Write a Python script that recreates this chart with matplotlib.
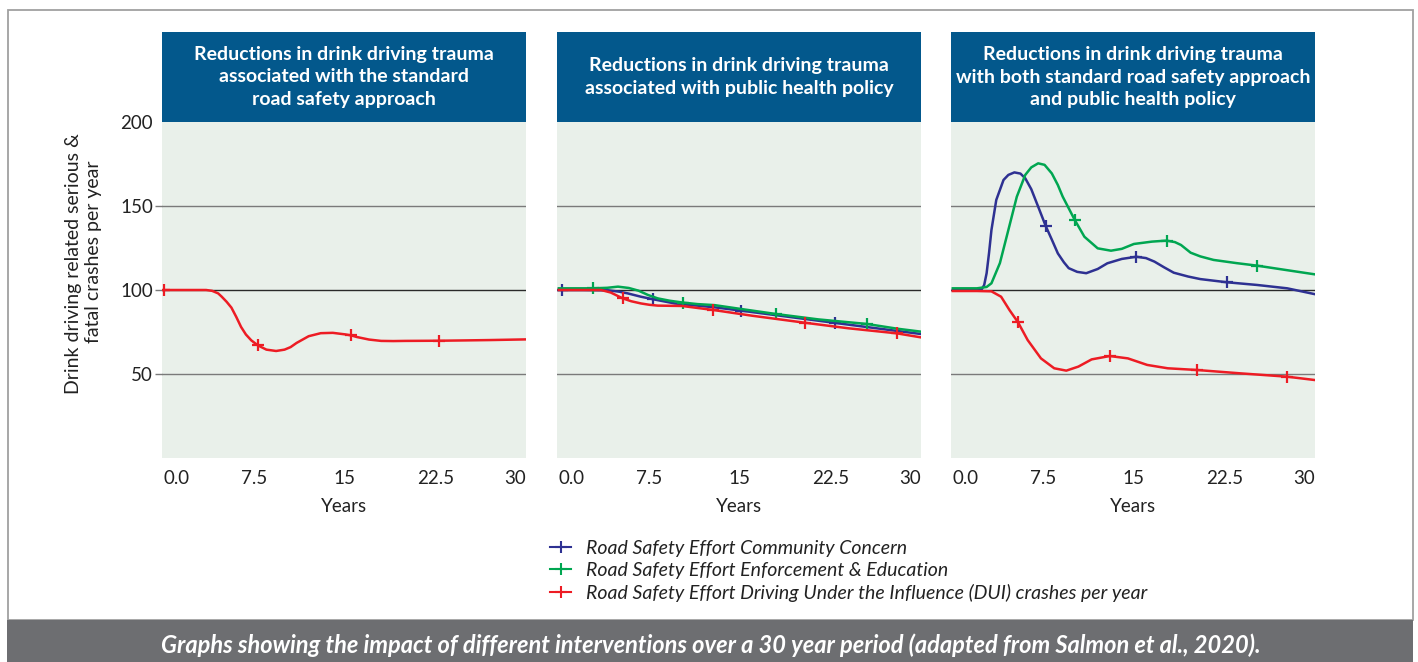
import numpy as np
import matplotlib
matplotlib.use("Agg")
import matplotlib.pyplot as plt
from matplotlib.patches import Rectangle
from matplotlib.lines import Line2D

plt.rcParams['font.family'] = ['Lato', 'DejaVu Sans']

W, H = 1418, 662
BLUE = '#2e3192'
GREEN = '#00a651'
RED = '#ed1c24'
BG = '#e9f0ea'
HEAD = '#03588c'
TXT = '#222222'

titles = [
    "Reductions in drink driving trauma\nassociated with the standard\nroad safety approach",
    "Reductions in drink driving trauma\nassociated with public health policy",
    "Reductions in drink driving trauma\nwith both standard road safety approach\nand public health policy",
]
x_ticks = [0, 7.5, 15, 22.5, 30]
x_tick_labels = ['0.0', '7.5', '15', '22.5', '30']
y_ticks = [50, 100, 150, 200]
y_tick_labels = ['50', '100', '150', '200']
legend_labels = [
    "Road Safety Effort Community Concern",
    "Road Safety Effort Enforcement & Education",
    "Road Safety Effort Driving Under the Influence (DUI) crashes per year",
]

# Panel 1: standard road safety approach
p1_red_t = [0, 1, 2, 3, 3.5, 4, 4.5, 4.8, 5.2, 5.6, 6, 6.4, 6.8, 7.25, 7.8, 8.5, 9.3, 10, 10.5, 11, 12, 13, 14, 15, 15.5, 16, 17, 18, 19, 20, 22.8, 25, 27, 30]
p1_red_v = [100, 100, 100, 100, 100, 99.5, 98, 96, 93, 89.5, 84, 78, 73.5, 70, 67, 64.5, 63.7, 64.5, 66, 68.5, 72.5, 74.3, 74.5, 73.6, 73, 72, 70.5, 69.7, 69.6, 69.7, 69.8, 70, 70.2, 70.6]
p1_red_marks = [0, 7.8, 15.5, 22.8]

# Panel 2: public health policy
p2_blue_t = [0, 0.3, 2, 4.1, 5, 5.7, 6.8, 7.8, 9.6, 12.9, 15.1, 18, 22.9, 26, 30]
p2_blue_v = [100, 100, 100, 99.8, 99, 98, 96, 94.5, 92, 89.7, 87.7, 85, 80.4, 77.5, 73.8]
p2_blue_marks = [0.3, 7.8, 15.1, 22.9]
p2_green_t = [0, 2.8, 4, 4.9, 5.8, 6.6, 7.4, 8.2, 9.2, 10.3, 11.5, 12.9, 15, 18, 21.5, 25.5, 28, 30]
p2_green_v = [101, 101, 101.3, 102, 101.2, 99.6, 97, 95, 93.6, 92.5, 91.6, 91, 88.8, 85.7, 82.5, 79.8, 77, 75.2]
p2_green_marks = [2.8, 10.3, 18, 25.5]
p2_red_t = [0, 2, 3.5, 4.3, 5.3, 6.0, 6.8, 7.5, 8.2, 10.2, 12.8, 16, 20.4, 24, 28, 30]
p2_red_v = [100, 100, 100, 98.5, 95, 93.3, 92, 91.2, 90.7, 90.5, 88.1, 84.7, 80.5, 77.2, 74.2, 71.8]
p2_red_marks = [5.3, 12.8, 20.4, 28]

# Panel 3: both approaches
p3_blue_t = [0, 1, 2, 2.4, 2.6, 2.8, 3.0, 3.2, 3.6, 4.2, 4.6, 5.1, 5.6, 6.0, 6.5, 7.07, 7.7, 8.2, 8.7, 9.2, 9.6, 10.3, 11.05, 12, 12.8, 14, 15.2, 16, 16.7, 17.5, 18.3, 19.5, 20.5, 22.7, 25.2, 27.7, 30]
p3_blue_v = [100, 100, 100, 100.5, 103, 110, 122, 135.7, 153.6, 165.5, 168.5, 170, 169.3, 166.5, 160, 149.6, 138, 130, 121.8, 116.5, 113, 110.8, 110, 112.5, 115.9, 118.5, 119.8, 119, 116.9, 113.5, 110.3, 108, 106.5, 104.6, 103, 101, 97.5]
p3_blue_marks = [7.7, 15.2, 22.7]
p3_green_t = [0, 1, 2, 2.8, 3.2, 3.9, 4.6, 5.3, 6.0, 6.5, 7.07, 7.6, 8.2, 8.7, 9.1, 10.1, 10.9, 12.0, 13.1, 14, 15.0, 16.5, 17.7, 18.4, 18.9, 19.7, 20.5, 21.6, 23.5, 25.2, 27.5, 30]
p3_green_v = [101, 101, 101, 101.8, 104, 116, 135.7, 155.5, 168.5, 173, 175.4, 174.5, 169.4, 162.5, 155.6, 141.7, 131.7, 124.8, 123.4, 124.5, 127.4, 128.8, 129.4, 128.5, 126.8, 122.2, 120, 117.9, 116, 114.5, 112, 109.3]
p3_green_marks = [10.1, 17.7, 25.2]
p3_red_t = [0, 1, 2, 3.2, 4.0, 4.7, 5.4, 6.2, 7.3, 8.4, 9.4, 10.4, 11.5, 13.0, 14.5, 16.1, 17.8, 20.2, 23.8, 27.7, 30]
p3_red_v = [99.4, 99.4, 99.4, 99.2, 96, 88, 80.8, 70.2, 59.3, 53.4, 52, 54.4, 58.7, 60.7, 59.3, 55.4, 53.4, 52.4, 50.4, 48.4, 46.4]
p3_red_marks = [5.4, 13.0, 20.2, 27.7]

panels = [
    [(p1_red_t, p1_red_v, p1_red_marks, RED)],
    [(p2_blue_t, p2_blue_v, p2_blue_marks, BLUE),
     (p2_green_t, p2_green_v, p2_green_marks, GREEN),
     (p2_red_t, p2_red_v, p2_red_marks, RED)],
    [(p3_blue_t, p3_blue_v, p3_blue_marks, BLUE),
     (p3_green_t, p3_green_v, p3_green_marks, GREEN),
     (p3_red_t, p3_red_v, p3_red_marks, RED)],
]


def px_rect(x0, y0, x1, y1):
    return [x0 / W, 1 - y1 / H, (x1 - x0) / W, (y1 - y0) / H]


fig = plt.figure(figsize=(W / 100, H / 100), dpi=100)

# outer border
fig.add_artist(Rectangle((8 / W, 1 - 620 / H), (1413 - 8) / W, (620 - 10) / H,
                         transform=fig.transFigure, fill=False,
                         edgecolor='#a0a0a0', lw=1.3))
# caption bar
fig.add_artist(Rectangle((7 / W, 0), (1413 - 7) / W, (662 - 620) / H,
                         transform=fig.transFigure, facecolor='#6d6e71',
                         edgecolor='none'))
fig.text(711 / W, 1 - 645 / H,
         "Graphs showing the impact of different interventions over a 30 year period (adapted from Salmon et al., 2020).",
         ha='center', va='center', color='white', fontsize=17,
         fontweight='bold', fontstyle='italic')

lefts = [162, 557, 951]
for i, left in enumerate(lefts):
    ax = fig.add_axes(px_rect(left, 122, left + 364, 458))
    ax.set_facecolor(BG)
    ax.set_xlim(-0.15, 30)
    ax.set_ylim(0, 200)
    for s in ax.spines.values():
        s.set_visible(False)
    for g in (50, 150):
        ax.axhline(g, color='#7a7a7a', lw=1.0, zorder=1)
    ax.axhline(100, color='#2a2a2a', lw=1.0, zorder=1)
    for t, v, marks, c in panels[i]:
        t = np.asarray(t)
        idx = [int(np.argmin(np.abs(t - m))) for m in marks]
        ax.plot(t, v, color=c, lw=1.8, marker='+', markersize=8.5,
                markeredgewidth=1.6, markevery=idx, zorder=3)
    ax.set_xticks(x_ticks)
    ax.set_xticklabels(x_tick_labels, fontsize=13.5, color=TXT)
    tl = ax.get_xticklabels()
    tl[0].set_ha('left')
    tl[-1].set_ha('right')
    ax.tick_params(axis='x', length=0, pad=9)
    if i == 0:
        ax.set_yticks(y_ticks)
        ax.set_yticklabels(y_tick_labels, fontsize=13.5, color=TXT)
        ax.tick_params(axis='y', length=5, width=1.0, color='#7a7a7a', pad=1.5)
        ax.yaxis.get_major_ticks()[-1].tick1line.set_visible(False)
    else:
        ax.set_yticks([])
    fig.text((left + 182) / W, 1 - 507 / H, "Years", ha='center', va='center',
             fontsize=13.5, color=TXT)

    hax = fig.add_axes(px_rect(left, 32, left + 364, 122))
    hax.set_facecolor(HEAD)
    hax.set_xticks([])
    hax.set_yticks([])
    for s in hax.spines.values():
        s.set_visible(False)
    hax.text(0.5, 0.5, titles[i], ha='center', va='center', color='white',
             fontsize=14, fontweight='bold', linespacing=1.4,
             transform=hax.transAxes)

fig.text(73 / W, 1 - 264 / H, "Drink driving related serious &",
         rotation=90, ha='center', va='center', fontsize=14, color=TXT)
fig.text(93 / W, 1 - 252 / H, "fatal crashes per year",
         rotation=90, ha='center', va='center', fontsize=14, color=TXT)

handles = [Line2D([], [], color=c, lw=1.5, marker='+', markersize=9,
                  markeredgewidth=1.5) for c in (BLUE, GREEN, RED)]
fig.legend(handles, legend_labels, loc='upper left',
           bbox_to_anchor=(550 / W, 1 - 540 / H), frameon=False,
           prop={'style': 'italic', 'size': 14}, handlelength=1.1,
           handletextpad=0.75, labelspacing=0.26, borderaxespad=0,
           borderpad=0, labelcolor=TXT)

fig.savefig('out.png', dpi=100)
